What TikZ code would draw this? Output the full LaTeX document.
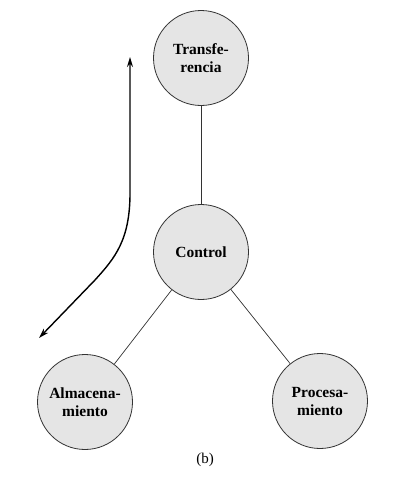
\documentclass[tikz,border=0pt]{standalone}
\usepackage{fontspec}
\setmainfont{Liberation Serif}
\usetikzlibrary{arrows.meta}
\begin{document}
\begin{tikzpicture}[x=1pt,y=-1pt,
  unit/.style={circle,draw=black!80,line width=0.8pt,fill=black!10,minimum size=95pt,inner sep=0pt,align=center,font=\fontsize{15.5}{18}\selectfont\bfseries},
  link/.style={draw=black!80,line width=0.7pt},
  flow/.style={line width=1.4pt,{Stealth[length=10pt,width=6pt]}-{Stealth[length=10pt,width=6pt]}}]
\useasboundingbox (0,0) rectangle (401,482);
\node[unit] (tr) at (201,58) {Transfe-\\rencia};
\node[unit] (co) at (201,252) {Control};
\node[unit] (al) at (85,402) {Almacena-\\miento};
\node[unit] (pr) at (320,401) {Procesa-\\miento};
\draw[link] (tr) -- (co);
\draw[link] (co) -- (al);
\draw[link] (co) -- (pr);
\coordinate (top) at (130,57);
\coordinate (bot) at (39,338);
\draw[flow] (bot) -- (95,280) .. controls (115,258) and (130,240) .. (130,193) -- (top);
\node (lb) at (205,460) {\fontsize{15}{17}\selectfont(b)};
\end{tikzpicture}
\end{document}
